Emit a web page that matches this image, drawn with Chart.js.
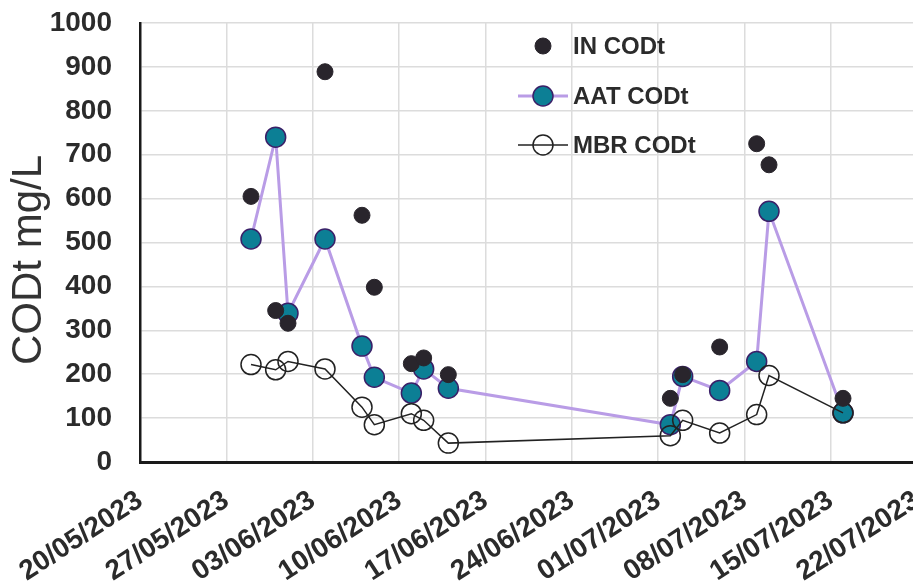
<!DOCTYPE html>
<html>
<head>
<meta charset="utf-8">
<script src="https://cdn.jsdelivr.net/npm/chart.js@4.4.1/dist/chart.umd.min.js"></script>
<style>
  html, body { margin: 0; padding: 0; overflow: hidden; background: #fff; }
</style>
</head>
<body>
<canvas id="codChart" width="917" height="582"></canvas>
<script>
// sampling dates (dd/mm/yyyy)
const sampleDates = ['29/05/2023', '31/05/2023', '01/06/2023', '04/06/2023', '07/06/2023',
  '08/06/2023', '11/06/2023', '12/06/2023', '14/06/2023', '02/07/2023',
  '03/07/2023', '06/07/2023', '09/07/2023', '10/07/2023', '16/07/2023'];

// CODt values in mg/L
const inCodt  = [605, 345, 316, 889, 562, 398, 224, 237, 199, 145, 199, 262, 725, 677, 145];
const aatCodt = [508, 740, 339, 508, 264, 193, 157, 212, 168, 85, 195, 163, 229, 571, 112];
const mbrCodt = [222, 210, 229, 212, 125, 85, 110, 95, 43, 60, 95, 66, 108, 197, 112];

const xTickLabels = ['20/05/2023', '27/05/2023', '03/06/2023', '10/06/2023', '17/06/2023',
  '24/06/2023', '01/07/2023', '08/07/2023', '15/07/2023', '22/07/2023'];

const startDay = Date.UTC(2023, 4, 20);

// days since 20/05/2023
function dayIndex(s) {
  const [d, m, y] = s.split('/').map(Number);
  return (Date.UTC(y, m - 1, d) - startDay) / 86400000;
}

function toPoints(values) {
  return values.map((v, i) => ({ x: dayIndex(sampleDates[i]), y: v }));
}

const fontName = '"Liberation Sans", Arial, sans-serif';

// legend drawn inside the plot, like the original
const insideLegend = {
  id: 'insideLegend',
  afterDatasetsDraw(chart) {
    const ctx = chart.ctx;
    const a = chart.chartArea;
    const rowY = [a.top + 23, a.top + 73, a.top + 122];
    ctx.save();
    chart.data.datasets.forEach((ds, i) => {
      const y = rowY[i];
      const mx = a.left + 403;
      if (ds.showLine) {
        ctx.strokeStyle = ds.borderColor;
        ctx.lineWidth = ds.borderWidth;
        ctx.beginPath();
        ctx.moveTo(a.left + 378, y);
        ctx.lineTo(a.left + 428, y);
        ctx.stroke();
      }
      ctx.beginPath();
      ctx.arc(mx, y, ds.pointRadius, 0, Math.PI * 2);
      ctx.fillStyle = ds.pointBackgroundColor;
      ctx.fill();
      ctx.lineWidth = ds.pointBorderWidth;
      ctx.strokeStyle = ds.pointBorderColor;
      ctx.stroke();
      ctx.fillStyle = '#2b2b2b';
      ctx.font = 'bold 24px ' + fontName;
      ctx.textBaseline = 'middle';
      ctx.textAlign = 'left';
      ctx.fillText(ds.label, a.left + 433, y + 1);
    });
    ctx.restore();
  }
};

new Chart(document.getElementById('codChart'), {
  type: 'scatter',
  data: {
    datasets: [
      {
        label: 'IN CODt',
        data: toPoints(inCodt),
        showLine: false,
        pointRadius: 8,
        pointBackgroundColor: '#29252c',
        pointBorderColor: '#29252c',
        pointBorderWidth: 1,
        borderColor: '#29252c',
        borderWidth: 1,
        order: 0
      },
      {
        label: 'AAT CODt',
        data: toPoints(aatCodt),
        showLine: true,
        borderColor: '#b99ce6',
        borderWidth: 3,
        pointRadius: 10,
        pointBackgroundColor: '#0c7f95',
        pointBorderColor: '#3a2068',
        pointBorderWidth: 1.5,
        order: 2
      },
      {
        label: 'MBR CODt',
        data: toPoints(mbrCodt),
        showLine: true,
        borderColor: '#222222',
        borderWidth: 1.5,
        pointRadius: 10,
        pointBackgroundColor: 'rgba(0,0,0,0)',
        pointBorderColor: '#222222',
        pointBorderWidth: 1.5,
        order: 1
      }
    ]
  },
  options: {
    responsive: false,
    animation: false,
    layout: { autoPadding: false, padding: { top: 23, right: 0, left: 0, bottom: 0 } },
    plugins: {
      legend: { display: false },
      tooltip: { enabled: false }
    },
    scales: {
      x: {
        type: 'linear',
        min: 0,
        max: 63,
        afterBuildTicks(scale) {
          scale.ticks = xTickLabels.map((_, i) => ({ value: i * 7 }));
        },
        afterFit(scale) {
          scale.height = 120;
          scale.paddingLeft = 0;
          scale.paddingRight = 0;
        },
        grid: { color: '#dcdcdc', lineWidth: 1.5, drawTicks: false },
        border: { color: '#1a1a1a', width: 3 },
        ticks: {
          autoSkip: false,
          minRotation: 33,
          maxRotation: 33,
          padding: 22,
          color: '#2b2b2b',
          font: { family: fontName, size: 28, weight: 'bold' },
          callback: (v) => xTickLabels[Math.round(v / 7)]
        }
      },
      y: {
        min: 0,
        max: 1000,
        afterFit(scale) {
          scale.width = 140;
          scale.paddingTop = 0;
          scale.paddingBottom = 0;
        },
        grid: { color: '#dcdcdc', lineWidth: 1.5, drawTicks: false },
        border: { color: '#1a1a1a', width: 2.5 },
        ticks: {
          stepSize: 100,
          padding: 28,
          color: '#2b2b2b',
          font: { family: fontName, size: 28, weight: 'bold' },
          callback: (v) => String(v)
        },
        title: {
          display: true,
          text: 'CODt mg/L\u00a0\u00a0\u00a0',
          color: '#333333',
          padding: { top: 8, bottom: 0 },
          font: { family: fontName, size: 42, weight: 'normal', lineHeight: 1 }
        }
      }
    }
  },
  plugins: [insideLegend]
});
</script>
</body>
</html>
